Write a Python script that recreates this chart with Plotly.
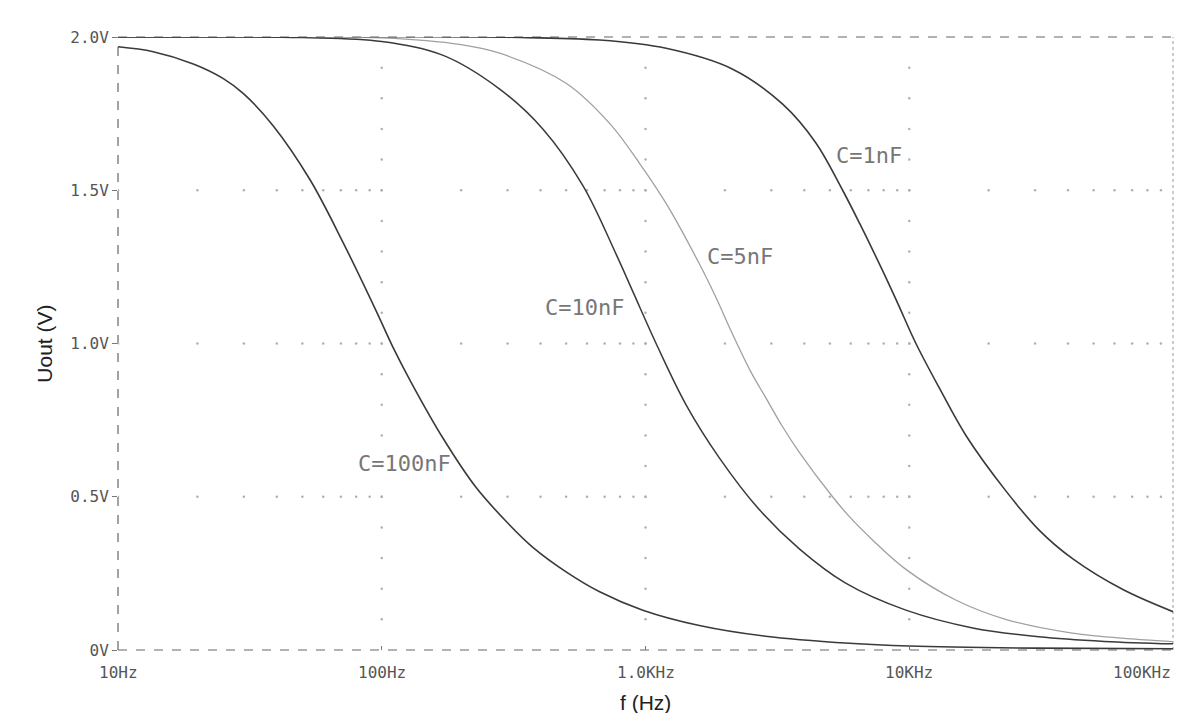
import numpy as np
import plotly.graph_objects as go

# ---- data ----
f_100n = [10, 13.6, 19.3, 25, 29.9, 38.8, 53.4, 71.3, 95.4, 110, 128, 171, 228, 296, 374, 500, 670, 977, 1600, 2850, 5930, 10000, 30000, 100000]
v_100n = [1.968, 1.952, 1.912, 1.865, 1.815, 1.71, 1.535, 1.33, 1.105, 0.99, 0.88, 0.69, 0.53, 0.42, 0.335, 0.255, 0.19, 0.13, 0.08, 0.045, 0.022, 0.013, 0.006, 0.004]

f_10n = [10, 50, 100, 171, 280, 408, 579, 775, 900, 1097, 1425, 1905, 2700, 3830, 5740, 9710, 17400, 31000, 55000, 100000]
v_10n = [2.0, 1.998, 1.985, 1.94, 1.83, 1.70, 1.515, 1.29, 1.165, 1.0, 0.80, 0.627, 0.458, 0.33, 0.218, 0.13, 0.072, 0.043, 0.028, 0.02]

f_5n = [10, 100, 200, 280, 500, 731, 949, 1197, 1600, 1850, 2140, 2500, 2850, 3300, 3830, 5120, 5930, 7240, 9710, 15000, 23200, 41500, 70000, 100000]
v_5n = [2.0, 1.997, 1.975, 1.947, 1.849, 1.718, 1.588, 1.457, 1.26, 1.15, 1.03, 0.91, 0.825, 0.73, 0.645, 0.50, 0.435, 0.36, 0.263, 0.163, 0.10, 0.055, 0.036, 0.027]

f_1n = [10, 300, 670, 1197, 2140, 3320, 4420, 5590, 6500, 7900, 9000, 10600, 13000, 16400, 23200, 31000, 41600, 64300, 100000]
v_1n = [2.0, 1.999, 1.99, 1.963, 1.895, 1.78, 1.655, 1.50, 1.39, 1.24, 1.135, 1.0, 0.855, 0.70, 0.52, 0.392, 0.298, 0.198, 0.125]

curve_names = ["C=100nF", "C=10nF", "C=5nF", "C=1nF"]
label_pos_f = [122, 587, 2290, 7050]
label_pos_v = [0.61, 1.116, 1.285, 1.615]

x_tick_vals = [10, 100, 1000, 10000, 100000]
x_tick_text = ["10Hz", "100Hz", "1.0KHz", "10KHz", "100KHz"]
y_tick_vals = [0, 0.5, 1.0, 1.5, 2.0]
y_tick_text = ["0V", "0.5V", "1.0V", "1.5V", "2.0V"]

dark = "#3a3a3a"
light = "#a0a0a0"

fig = go.Figure()

# dotted grid pattern (derived from the tick arrays)
gx, gy = [], []
for d in x_tick_vals[:-1]:
    for k in range(1, 10):
        for yv in y_tick_vals[1:-1]:
            gx.append(d * k)
            gy.append(yv)
for d in x_tick_vals[1:-1]:
    for yv in np.arange(0.1, 2.0, 0.1):
        gx.append(d)
        gy.append(float(yv))
fig.add_trace(go.Scatter(x=gx, y=gy, mode="markers", marker=dict(size=2.5, color="#b0b0b0"),
                         hoverinfo="skip", showlegend=False))

series = [(f_100n, v_100n, dark, 1.6), (f_10n, v_10n, dark, 1.5), (f_5n, v_5n, light, 1.3), (f_1n, v_1n, dark, 1.6)]
for (fx, vy, col, w), name in zip(series, curve_names):
    fig.add_trace(go.Scatter(x=fx, y=vy, mode="lines", name=name,
                             line=dict(color=col, width=w, shape="spline", smoothing=1.0),
                             showlegend=False, cliponaxis=False))

for name, fx, vy in zip(curve_names, label_pos_f, label_pos_v):
    fig.add_annotation(x=np.log10(fx), y=vy, xref="x", yref="y", text=name, showarrow=False,
                       font=dict(family="DejaVu Sans Mono", size=22, color="#777"))

# x tick labels
for i, (tv, tt) in enumerate(zip(x_tick_vals, x_tick_text)):
    fig.add_annotation(x=np.log10(tv), y=-0.036, xref="x", yref="paper", text=tt, showarrow=False,
                       xanchor="right" if i == len(x_tick_vals) - 1 else "center", yanchor="middle",
                       font=dict(family="DejaVu Sans Mono", size=16, color="#555"))

# axis titles
fig.add_annotation(x=0.5, y=-0.086, xref="paper", yref="paper", text="f (Hz)", showarrow=False,
                   yanchor="middle", font=dict(family="Liberation Sans", size=21, color="#222"))
fig.add_annotation(x=-0.070, y=0.5, xref="paper", yref="paper", text="Uout (V)", showarrow=False,
                   textangle=-90, xanchor="center", font=dict(family="Liberation Sans", size=21, color="#222"))

# frame
for x0, y0, x1, y1, dash, col in [(0, 1, 1, 1, "dash", "#666"), (0, 0, 0, 1, "dash", "#666"),
                                  (0, 0, 1, 0, "dash", "#666"), (1, 0, 1, 1, "dot", "#aaa")]:
    fig.add_shape(type="line", xref="x domain", yref="y domain", x0=x0, y0=y0, x1=x1, y1=y1,
                  line=dict(color=col, width=1.2, dash=dash), layer="below")

fig.update_xaxes(type="log", range=[1, 5], showgrid=False, zeroline=False, showline=False,
                 tickvals=x_tick_vals, showticklabels=False, ticks="inside", ticklen=4, tickcolor="#777")
fig.update_yaxes(range=[0, 2.0], showgrid=False, zeroline=False, showline=False,
                 tickvals=y_tick_vals, ticktext=y_tick_text, ticks="outside", ticklen=5, tickcolor="#777",
                 tickfont=dict(family="DejaVu Sans Mono", size=16, color="#555"))

fig.update_layout(width=1190, height=713, margin=dict(l=118, r=17, t=37, b=63),
                  paper_bgcolor="white", plot_bgcolor="white", showlegend=False)

fig.write_html("out.html", config={"displayModeBar": False},
               post_script="document.body.style.margin='0px';")
